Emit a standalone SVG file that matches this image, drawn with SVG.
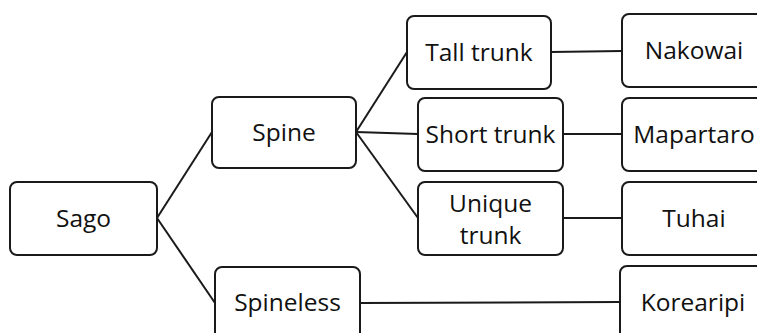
<svg xmlns="http://www.w3.org/2000/svg" width="757" height="333" viewBox="0 0 757 333">
  <style>
    .box { fill: #ffffff; stroke: #1a1a1a; stroke-width: 2; }
    .lbl { font-family: "Open Sans", "Noto Sans", "Liberation Sans", sans-serif; font-size: 24.5px; fill: #111111; text-anchor: middle; dominant-baseline: central; }
    .edge { stroke: #1a1a1a; stroke-width: 2; fill: none; }
  </style>
  <rect width="757" height="333" fill="#ffffff"/>

  <g id="connectors">
    <line class="edge" x1="157" y1="218" x2="212" y2="132"/>
    <line class="edge" x1="157" y1="218" x2="215" y2="303"/>
    <line class="edge" x1="356" y1="132" x2="407" y2="52"/>
    <line class="edge" x1="356" y1="132" x2="418" y2="134"/>
    <line class="edge" x1="356" y1="132" x2="418" y2="218"/>
    <line class="edge" x1="551" y1="52" x2="622" y2="51"/>
    <line class="edge" x1="563" y1="134" x2="622" y2="134"/>
    <line class="edge" x1="563" y1="218" x2="622" y2="218"/>
    <line class="edge" x1="360" y1="303" x2="620" y2="302"/>
  </g>

  <g id="sago">
    <rect class="box" x="10" y="182" width="147" height="73" rx="7"/>
    <text class="lbl" x="83.5" y="217">Sago</text>
  </g>
  <g id="spine">
    <rect class="box" x="212" y="97" width="144" height="71" rx="7"/>
    <text class="lbl" x="284" y="131">Spine</text>
  </g>
  <g id="spineless">
    <rect class="box" x="215" y="267" width="145" height="80" rx="7"/>
    <text class="lbl" x="287.5" y="301">Spineless</text>
  </g>
  <g id="tall-trunk">
    <rect class="box" x="407" y="16" width="144" height="73" rx="7"/>
    <text class="lbl" x="479" y="51">Tall trunk</text>
  </g>
  <g id="short-trunk">
    <rect class="box" x="418" y="98" width="145" height="73" rx="7"/>
    <text class="lbl" x="490.5" y="133">Short trunk</text>
  </g>
  <g id="unique-trunk">
    <rect class="box" x="418" y="182" width="145" height="73" rx="7"/>
    <text class="lbl" x="490.5" y="202">Unique</text>
    <text class="lbl" x="490.5" y="234">trunk</text>
  </g>
  <g id="nakowai">
    <rect class="box" x="622" y="14" width="144" height="73" rx="7"/>
    <text class="lbl" x="694" y="49">Nakowai</text>
  </g>
  <g id="mapartaro">
    <rect class="box" x="622" y="98" width="144" height="73" rx="7"/>
    <text class="lbl" x="694" y="133">Mapartaro</text>
  </g>
  <g id="tuhai">
    <rect class="box" x="622" y="182" width="144" height="73" rx="7"/>
    <text class="lbl" x="694" y="217">Tuhai</text>
  </g>
  <g id="korearipi">
    <rect class="box" x="620" y="266" width="146" height="80" rx="7"/>
    <text class="lbl" x="693" y="301">Korearipi</text>
  </g>
</svg>
